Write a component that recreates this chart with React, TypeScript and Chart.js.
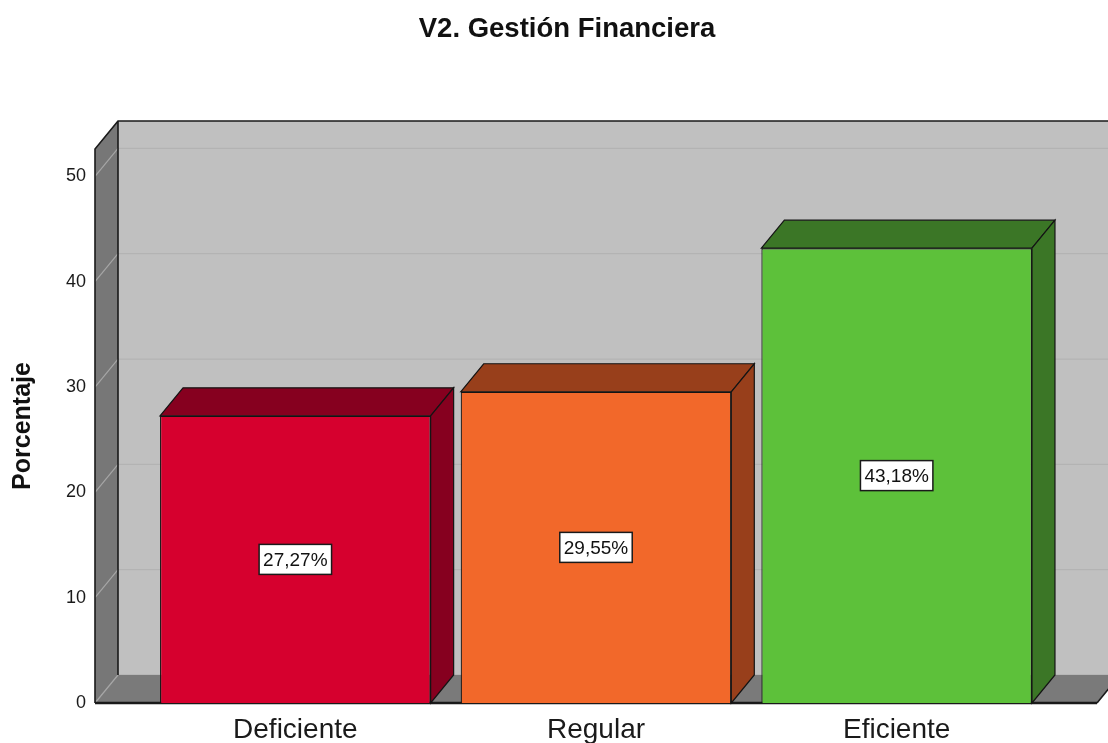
import React, { useEffect, useRef } from 'react';
import { Chart, registerables } from 'chart.js';

Chart.register(...registerables);

const chartTitle = 'V2. Gestión Financiera';
const yAxisTitle = 'Porcentaje';
const categories = ['Deficiente', 'Regular', 'Eficiente'];
const percentages = [27.27, 29.55, 43.18];
const valueLabels = ['27,27%', '29,55%', '43,18%'];
const yTicks = [0, 10, 20, 30, 40, 50];
const frontColors = ['#D6002E', '#F2682A', '#5DC13A'];
const sideColors = ['#86001F', '#983F1B', '#3B7626'];

const DX = 23;
const DY = -28;
const WALL_EXT = 50;
const FONT = "'Liberation Sans', Arial, Helvetica, sans-serif";

const box3d = {
  id: 'box3d',
  beforeDatasetsDraw(chart: any) {
    const { ctx, chartArea: ca, scales } = chart;
    const y = scales.y;
    const L = ca.left - WALL_EXT;
    const R = ca.right + WALL_EXT;
    const T = ca.top;
    const B = ca.bottom;
    ctx.save();
    // back wall
    ctx.fillStyle = '#C0C0C0';
    ctx.fillRect(L + DX, T + DY, R - L + 40, B - T);
    // back grid lines
    ctx.strokeStyle = '#B3B3B3';
    ctx.lineWidth = 1.3;
    yTicks.forEach((v) => {
      const yy = y.getPixelForValue(v) + DY;
      ctx.beginPath();
      ctx.moveTo(L + DX, yy);
      ctx.lineTo(R + DX + 40, yy);
      ctx.stroke();
    });
    // left wall
    ctx.fillStyle = '#777777';
    ctx.beginPath();
    ctx.moveTo(L, T);
    ctx.lineTo(L + DX, T + DY);
    ctx.lineTo(L + DX, B + DY);
    ctx.lineTo(L, B);
    ctx.closePath();
    ctx.fill();
    // floor
    ctx.fillStyle = '#7A7A7A';
    ctx.beginPath();
    ctx.moveTo(L, B);
    ctx.lineTo(R, B);
    ctx.lineTo(R + DX, B + DY);
    ctx.lineTo(L + DX, B + DY);
    ctx.closePath();
    ctx.fill();
    // left wall grid diagonals
    ctx.strokeStyle = '#A6A6A6';
    ctx.lineWidth = 1.2;
    yTicks.forEach((v) => {
      const yy = y.getPixelForValue(v);
      ctx.beginPath();
      ctx.moveTo(L, yy);
      ctx.lineTo(L + DX, yy + DY);
      ctx.stroke();
    });
    // edges
    ctx.strokeStyle = '#1A1A1A';
    ctx.lineWidth = 1.6;
    ctx.beginPath();
    ctx.moveTo(L, B);
    ctx.lineTo(L, T);
    ctx.lineTo(L + DX, T + DY);
    ctx.lineTo(R + DX + 40, T + DY);
    ctx.moveTo(L + DX, T + DY);
    ctx.lineTo(L + DX, B + DY);
    ctx.moveTo(R, B);
    ctx.lineTo(R + DX, B + DY);
    ctx.stroke();
    ctx.lineWidth = 2.5;
    ctx.beginPath();
    ctx.moveTo(L, B);
    ctx.lineTo(R, B);
    ctx.stroke();
    ctx.restore();
  },
  afterDatasetsDraw(chart: any) {
    const { ctx, chartArea: ca, scales } = chart;
    const y = scales.y;
    const B = ca.bottom;
    const meta = chart.getDatasetMeta(0);
    ctx.save();
    meta.data.forEach((bar: any, i: number) => {
      const half = bar.width / 2;
      const x0 = bar.x - half;
      const x1 = bar.x + half;
      const yt = bar.y;
      ctx.fillStyle = sideColors[i];
      ctx.strokeStyle = '#141414';
      ctx.lineWidth = 1.2;
      // top face
      ctx.beginPath();
      ctx.moveTo(x0, yt);
      ctx.lineTo(x0 + DX, yt + DY);
      ctx.lineTo(x1 + DX, yt + DY);
      ctx.lineTo(x1, yt);
      ctx.closePath();
      ctx.fill();
      ctx.stroke();
      // side face
      ctx.beginPath();
      ctx.moveTo(x1, yt);
      ctx.lineTo(x1 + DX, yt + DY);
      ctx.lineTo(x1 + DX, B + DY);
      ctx.lineTo(x1, B);
      ctx.closePath();
      ctx.fill();
      ctx.stroke();
    });
    // value labels
    ctx.font = `19px ${FONT}`;
    ctx.textAlign = 'center';
    ctx.textBaseline = 'middle';
    meta.data.forEach((bar: any, i: number) => {
      const cy = y.getPixelForValue(percentages[i] / 2);
      const tw = ctx.measureText(valueLabels[i]).width;
      const w = tw + 8;
      const h = 30;
      ctx.fillStyle = '#FFFFFF';
      ctx.fillRect(bar.x - w / 2, cy - h / 2, w, h);
      ctx.strokeStyle = '#1A1A1A';
      ctx.lineWidth = 1.5;
      ctx.strokeRect(bar.x - w / 2, cy - h / 2, w, h);
      ctx.fillStyle = '#111111';
      ctx.fillText(valueLabels[i], bar.x, cy + 1);
    });
    ctx.restore();
  },
};

export default function App() {
  const ref = useRef<HTMLCanvasElement>(null);
  useEffect(() => {
    if (!ref.current) return;
    const chart = new Chart(ref.current, {
      type: 'bar',
      data: {
        labels: categories,
        datasets: [
          {
            data: percentages,
            backgroundColor: frontColors,
            borderColor: '#141414',
            borderWidth: 1.2,
            barPercentage: 0.9,
            categoryPercentage: 1,
          },
        ],
      },
      options: {
        animation: false,
        responsive: true,
        maintainAspectRatio: false,
        layout: { padding: { left: 26, right: 0, top: 0, bottom: 0 } },
        plugins: {
          legend: { display: false },
          tooltip: { enabled: false },
          title: {
            display: true,
            text: chartTitle,
            color: '#111111',
            font: { family: FONT, size: 27.5, weight: 'bold', lineHeight: 1.2 },
            padding: { top: 13, bottom: 103 },
          },
        },
        scales: {
          x: {
            grid: { display: false, drawTicks: false },
            border: { display: false },
            ticks: { color: '#1A1A1A', font: { family: FONT, size: 28 }, padding: 10 },
            afterFit: (s: any) => {
              s.height = 40;
            },
          },
          y: {
            min: 0,
            max: 52.6,
            grid: { display: false, drawTicks: false },
            border: { display: false },
            afterBuildTicks: (s: any) => {
              s.ticks = yTicks.map((v) => ({ value: v }));
            },
            ticks: { color: '#1A1A1A', font: { family: FONT, size: 18 }, padding: 59 },
            title: {
              display: true,
              text: yAxisTitle,
              color: '#111111',
              font: { family: FONT, size: 25, weight: 'bold', lineHeight: 1.2 },
              padding: { top: -18, bottom: 0 },
            },
            afterFit: (s: any) => {
              s.width = 119;
              s.paddingTop = 0;
              s.paddingBottom = 0;
            },
          },
          yRight: {
            position: 'right',
            display: true,
            grid: { display: false, drawTicks: false },
            border: { display: false },
            ticks: { display: false },
            afterFit: (s: any) => {
              s.width = 61;
              s.paddingTop = 0;
              s.paddingBottom = 0;
            },
          },
        },
      },
      plugins: [box3d],
    });
    return () => chart.destroy();
  }, []);
  return (
    <div style={{ position: 'fixed', left: 0, top: 0, width: 1108, height: 743, background: '#FFFFFF' }}>
      <canvas ref={ref} />
    </div>
  );
}
